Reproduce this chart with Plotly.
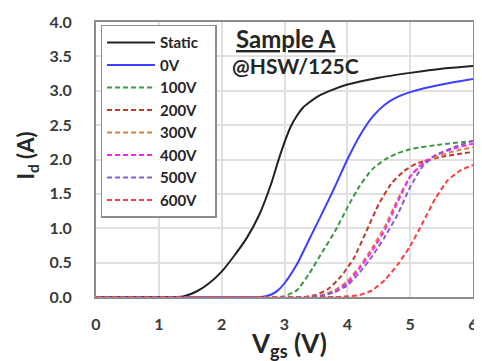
import plotly.graph_objects as go

# Data (Vgs in V, Id in A)
v_static = [0, 1.0, 1.3, 1.4, 1.6, 1.8, 2.0, 2.2, 2.4, 2.6, 2.8, 2.9, 3.0, 3.1, 3.2, 3.3, 3.5, 3.7, 4.0, 4.5, 5.0, 5.5, 6.0]
i_static = [0, 0, 0, 0.01, 0.08, 0.2, 0.37, 0.6, 0.86, 1.2, 1.68, 1.98, 2.25, 2.48, 2.64, 2.76, 2.9, 2.99, 3.09, 3.19, 3.26, 3.32, 3.36]

v_0v = [0, 2.6, 2.7, 2.8, 2.9, 3.0, 3.2, 3.4, 3.6, 3.8, 4.0, 4.2, 4.4, 4.6, 4.8, 5.0, 5.5, 6.0]
i_0v = [0, 0, 0.01, 0.04, 0.1, 0.2, 0.48, 0.85, 1.22, 1.6, 2.0, 2.35, 2.62, 2.8, 2.91, 2.98, 3.09, 3.17]

v_100 = [0, 2.9, 3.0, 3.2, 3.4, 3.6, 3.8, 4.0, 4.2, 4.4, 4.6, 4.8, 5.0, 5.5, 6.0]
i_100 = [0, 0, 0.01, 0.1, 0.35, 0.65, 0.95, 1.3, 1.62, 1.86, 2.0, 2.09, 2.15, 2.22, 2.27]

v_200 = [0, 3.3, 3.5, 3.7, 3.9, 4.1, 4.3, 4.5, 4.7, 4.9, 5.1, 5.5, 6.0]
i_200 = [0, 0, 0.03, 0.12, 0.3, 0.56, 0.95, 1.35, 1.65, 1.83, 1.94, 2.04, 2.11]

v_300 = [0, 3.4, 3.6, 3.8, 4.0, 4.2, 4.4, 4.6, 4.8, 5.0, 5.2, 5.4, 5.7, 6.0]
i_300 = [0, 0, 0.03, 0.1, 0.23, 0.45, 0.72, 1.03, 1.42, 1.75, 1.93, 2.03, 2.12, 2.18]

v_400 = [0, 3.4, 3.6, 3.8, 4.0, 4.2, 4.4, 4.6, 4.8, 5.0, 5.2, 5.4, 5.7, 6.0]
i_400 = [0, 0, 0.02, 0.08, 0.2, 0.42, 0.68, 0.98, 1.38, 1.75, 1.95, 2.06, 2.16, 2.23]

v_500 = [0, 3.4, 3.6, 3.8, 4.0, 4.2, 4.4, 4.6, 4.8, 5.0, 5.2, 5.4, 5.7, 6.0]
i_500 = [0, 0, 0.02, 0.07, 0.17, 0.36, 0.6, 0.88, 1.2, 1.6, 1.9, 2.06, 2.18, 2.27]

v_600 = [0, 3.8, 4.0, 4.2, 4.4, 4.6, 4.8, 5.0, 5.2, 5.4, 5.6, 5.8, 6.0]
i_600 = [0, 0, 0.01, 0.03, 0.1, 0.25, 0.47, 0.74, 1.08, 1.43, 1.7, 1.84, 1.92]

names = ["Static", "0V", "100V", "200V", "300V", "400V", "500V", "600V"]
xs = [v_static, v_0v, v_100, v_200, v_300, v_400, v_500, v_600]
ys = [i_static, i_0v, i_100, i_200, i_300, i_400, i_500, i_600]
colors = ["#222222", "#3f3fff", "#3a9a3a", "#c0392b", "#d9803f", "#ff22ff", "#8a5cc8", "#ff3b3b"]
dashes = ["solid", "solid", "5px,3px", "5px,3px", "5px,3px", "5px,3px", "5px,3px", "5px,3px"]

FONT = "Lato, 'Open Sans', sans-serif"
TXT = "#262626"
PAD = "&nbsp;" * 3

fig = go.Figure()
for n, x, y, c, d in zip(names, xs, ys, colors, dashes):
    fig.add_trace(go.Scatter(
        x=x, y=y, name="<b>" + n + "</b>" + PAD, mode="lines",
        line=dict(color=c, width=2, dash=d, shape="spline", smoothing=0.5),
    ))

# The page body has an 8px default margin, so the figure is 8px smaller
# and margins are shifted to land the plot area where the reference has it.
fig.update_layout(
    width=474, height=353,
    margin=dict(l=88, r=4, t=7, b=64),
    paper_bgcolor="white", plot_bgcolor="white",
    font=dict(family=FONT, color=TXT),
    showlegend=True,
    legend=dict(
        x=0.012, y=0.99, xanchor="left", yanchor="top",
        bgcolor="white", bordercolor="#8c8c8c", borderwidth=1.5,
        font=dict(family=FONT, size=15, color=TXT),
        traceorder="normal",
        itemwidth=48,
    ),
    xaxis=dict(
        range=[0, 6], dtick=1, tick0=0,
        showgrid=True, gridcolor="#e0e0e0", gridwidth=1.5,
        showline=True, linecolor="#8c8c8c", linewidth=2, mirror=True,
        ticks="", zeroline=False, ticklabeloverflow="allow",
        tickfont=dict(family=FONT, size=16, color="#3a3a3a", weight="bold"),
        ticklabelstandoff=12,
    ),
    yaxis=dict(
        range=[0, 4], dtick=0.5, tick0=0, tickformat=".1f",
        showgrid=True, gridcolor="#e0e0e0", gridwidth=1.5,
        showline=True, linecolor="#8c8c8c", linewidth=2, mirror=True,
        ticks="", zeroline=False, ticklabeloverflow="allow",
        tickfont=dict(family=FONT, size=16, color="#3a3a3a", weight="bold"),
        ticklabelstandoff=19,
    ),
)

# axis titles (placed as text to match the reference positions)
fig.add_annotation(text="<b>V<sub>gs</sub> (V)</b>", xref="paper", yref="paper",
                   x=(292 - 96) / 382, y=(297 - 346) / 282, xanchor="center", yanchor="middle",
                   showarrow=False, font=dict(family=FONT, size=26, color=TXT))
fig.add_annotation(text="<b>I<sub>d</sub> (A)</b>", xref="paper", yref="paper", textangle=-90,
                   x=(26 - 96) / 382, y=(297 - 152) / 282, xanchor="center", yanchor="middle",
                   showarrow=False, font=dict(family=FONT, size=22, color=TXT))

fig.add_annotation(text="<b><u>Sample A</u></b>", xref="paper", yref="paper",
                   x=(236 - 96) / 382, y=(297 - 32) / 282, xanchor="left", yanchor="middle",
                   showarrow=False, font=dict(family=FONT, size=24, color=TXT))
fig.add_annotation(text="<b>@HSW/125C</b>", xref="paper", yref="paper",
                   x=(232 - 96) / 382, y=(297 - 60) / 282, xanchor="left", yanchor="middle",
                   showarrow=False, font=dict(family=FONT, size=21, color=TXT))

fig.write_html("out.html")
